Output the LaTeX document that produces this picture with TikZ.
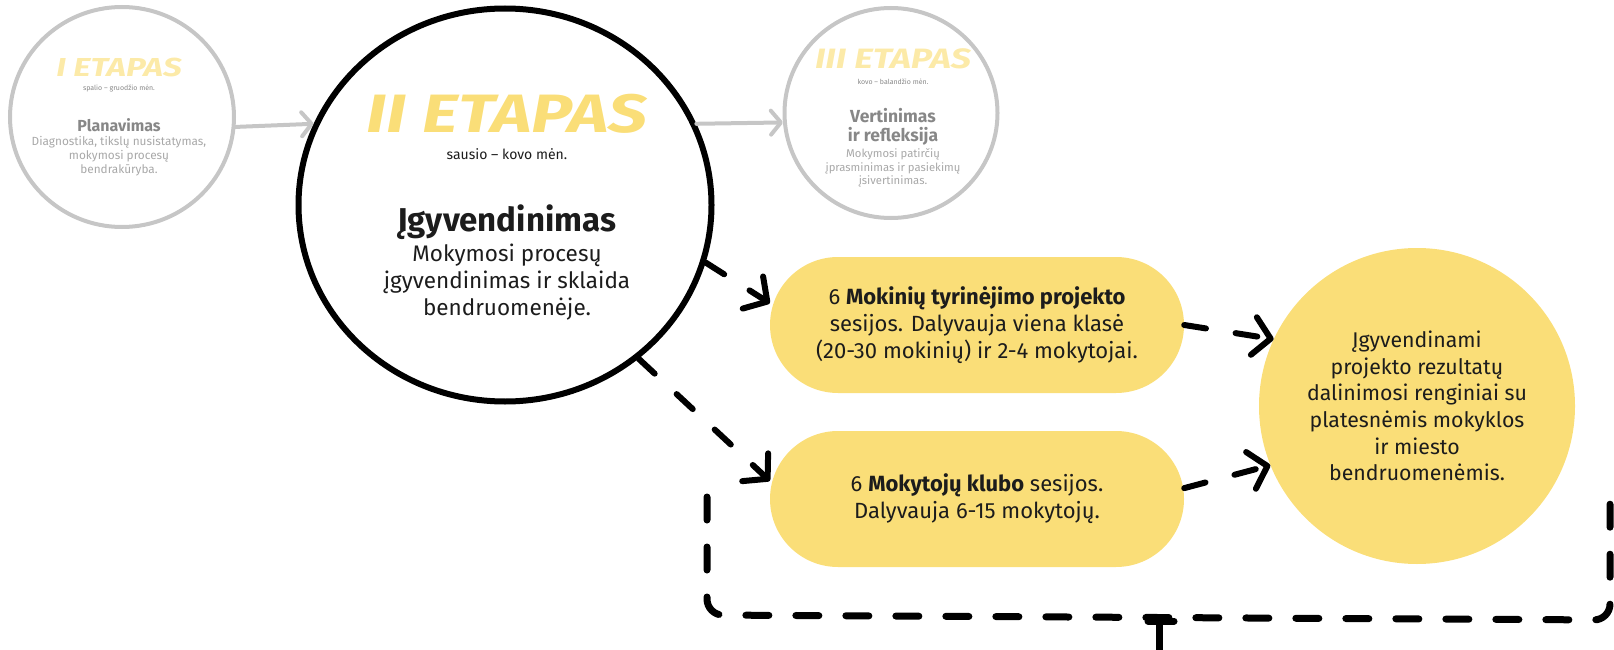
\documentclass[tikz,border=0pt]{standalone}
\usepackage{graphicx}
\usepackage{fontspec}
\setmainfont{Fira Sans}
\usetikzlibrary{arrows.meta,shapes.geometric}
\definecolor{ylw}{HTML}{FADE78}
\definecolor{pale}{HTML}{FCEAA8}
\definecolor{gline}{HTML}{C6C6C6}
\definecolor{gtitle}{HTML}{878787}
\definecolor{gtext}{HTML}{A8A8A8}
\definecolor{ink}{HTML}{1C1C1C}
\newcommand{\fsz}[2]{\fontsize{#1}{#2}\selectfont}
\newcommand{\wide}[1]{\scalebox{1.28}[1]{#1}}
\begin{document}
\begin{tikzpicture}[x=1pt,y=-1pt,
  stageshape/.style={ellipse, inner sep=0pt},
  pill/.style={rectangle, fill=ylw, rounded corners=68pt, minimum width=414pt, minimum height=136pt, inner sep=0pt},
  etap/.style={font=\bfseries\itshape, inner sep=0pt},
  txt/.style={align=center, inner sep=0pt, text=ink},
  greyarrow/.style={draw=gline, line width=4pt, line cap=round, -{Straight Barb[length=10pt,width=24pt,round]}},
  dasharrow/.style={draw=black, line width=6pt, line cap=round, dash pattern=on 22pt off 30pt, -{Straight Barb[length=17pt,width=38pt,round]}},
  loopline/.style={draw=black, line width=7pt, line cap=round, dash pattern=on 23pt off 27pt}
]
\useasboundingbox (0,0) rectangle (1614,650);

% stage circles
\node[stageshape, draw=gline, line width=4pt, minimum width=224pt, minimum height=220pt] (c1) at (122,117) {};
\node[stageshape, draw=black, line width=6pt, minimum width=413pt, minimum height=393pt] (c2) at (505,205) {};
\node[stageshape, draw=gline, line width=4pt, minimum width=213pt, minimum height=210pt] (c3) at (891,113) {};

% stage I text
\node[etap, text=pale, font=\bfseries\itshape\fsz{26}{26}] (e1) at (119,67) {\wide{I ETAPAS}};
\node[txt, text=gtitle, font=\fsz{7}{8}] (m1) at (119,88) {spalio – gruodžio mėn.};
\node[txt, text=gtitle, font=\bfseries\fsz{16}{17}] (t1) at (119,125) {Planavimas};
\node[txt, text=gtext, font=\fsz{11.8}{14}] (d1) at (119,156) {Diagnostika, tikslų nusistatymas,\\mokymosi procesų\\bendrakūryba.};

% stage II text
\node[etap, text=ylw, font=\bfseries\itshape\fsz{54}{54}] (e2) at (507,114) {\wide{II ETAPAS}};
\node[txt, font=\fsz{14}{16}] (m2) at (507,154) {sausio – kovo mėn.};
\node[txt, font=\bfseries\fsz{33}{34}] (t2) at (507,222) {Įgyvendinimas};
\node[txt, font=\fsz{22.5}{27}] (d2) at (507,282) {Mokymosi procesų\\įgyvendinimas ir sklaida\\bendruomenėje.};

% stage III text
\node[etap, text=pale, font=\bfseries\itshape\fsz{28}{28}] (e3) at (893,59) {\wide{III ETAPAS}};
\node[txt, text=gtitle, font=\fsz{7}{8}] (m3) at (893,82) {kovo – balandžio mėn.};
\node[txt, text=gtitle, font=\bfseries\fsz{17.5}{19}] (t3) at (893,127) {Vertinimas\\ir refleksija};
\node[txt, text=gtext, font=\fsz{11.3}{13.5}] (d3) at (893,168) {Mokymosi patirčių\\įprasminimas ir pasiekimų\\įsivertinimas.};

% pills
\node[pill] (p1) at (977,325) {};
\node[txt, font=\fsz{22}{27}] (p1t) at (977,325) {6 \textbf{Mokinių tyrinėjimo projekto}\\sesijos. Dalyvauja viena klasė\\(20-30 mokinių) ir 2-4 mokytojai.};
\node[pill] (p2) at (977,499) {};
\node[txt, font=\fsz{22}{27}] (p2t) at (977,499) {6 \textbf{Mokytojų klubo} sesijos.\\Dalyvauja 6-15 mokytojų.};

% result circle
\node[circle, fill=ylw, minimum size=316pt, inner sep=0pt] (big) at (1417,406) {};
\node[txt, font=\fsz{21.3}{26.6}] (bigt) at (1417,406) {Įgyvendinami\\projekto rezultatų\\dalinimosi renginiai su\\platesnėmis mokyklos\\ir miesto\\bendruomenėmis.};

% grey arrows
\draw[greyarrow] (c1.-5) -- (c2.157);
\draw[greyarrow] (c2.23) -- (c3.185);

% dashed arrows
\draw[dasharrow] (c2.-16) -- (p1.174);
\draw[dasharrow] (c2.-49) -- (p2.175);
\draw[dasharrow] (p1.east) -- (big.155);
\draw[dasharrow] (p2.3) -- (big.202);

% feedback loop
\coordinate (la) at (707,497);
\coordinate (lb) at (707,615);
\coordinate (lc) at (1610,620);
\coordinate (ld) at (1610,500);
\coordinate (ts) at (1159,621);
\coordinate (te) at (1159,650);
\draw[loopline, rounded corners=16pt] (la) -- (lb) -- (lc) -- (ld);
\draw[draw=black, line width=7pt, line cap=round] ([xshift=-11pt]ts) -- ([xshift=15pt]ts);
\draw[draw=black, line width=7pt, line cap=round] (ts) -- (te);
\end{tikzpicture}
\end{document}
